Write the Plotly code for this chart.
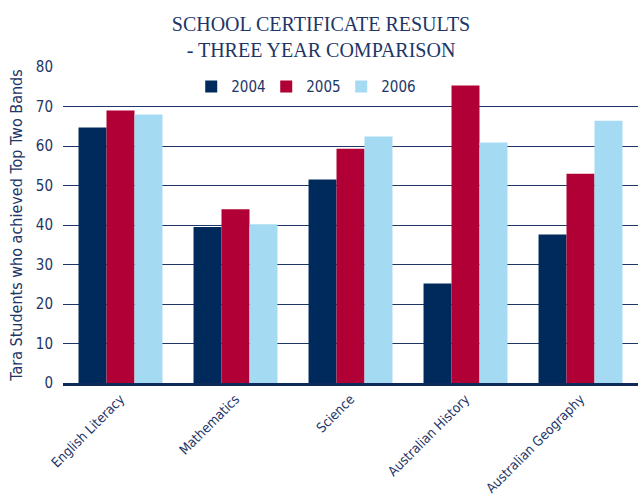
import plotly.graph_objects as go

categories = ["English Literacy", "Mathematics", "Science", "Australian History", "Australian Geography"]
years = ["2004", "2005", "2006"]
v2004 = [64.7, 39.5, 51.5, 25.2, 37.6]
v2005 = [69.0, 44.0, 59.3, 75.3, 53.0]
v2006 = [68.0, 40.2, 62.4, 60.9, 66.4]
colors = ["#002A5C", "#B00035", "#A5DAF3"]
yticks = [0, 10, 20, 30, 40, 50, 60, 70, 80]

NAVY = "#1D3667"
FONT = "DejaVu Sans Condensed, Liberation Sans Narrow, sans-serif"

fig = go.Figure()
for name, vals, c in zip(years, [v2004, v2005, v2006], colors):
    fig.add_trace(go.Bar(x=categories, y=vals, name=name, marker=dict(color=c, line=dict(width=0))))

fig.update_layout(
    width=642, height=502,
    margin=dict(l=63, r=4, t=67, b=119, autoexpand=False),
    paper_bgcolor="white", plot_bgcolor="white",
    barmode="group", bargap=0.27, bargroupgap=0,
    title=dict(text="SCHOOL CERTIFICATE RESULTS<br>- THREE YEAR COMPARISON",
               x=0.5, xanchor="center", xref="container", yref="container", y=0.938, yanchor="middle",
               font=dict(family="Liberation Serif, DejaVu Serif, serif", size=20, color=NAVY)),
    legend=dict(orientation="h", x=0.223, xanchor="left", y=0.99, yanchor="top",
                font=dict(family=FONT, size=15, color=NAVY), bgcolor="rgba(0,0,0,0)",
                entrywidth=30, entrywidthmode="pixels", traceorder="normal"),
    font=dict(family=FONT, color=NAVY),
    showlegend=True,
)
fig.update_xaxes(showline=True, linecolor="#0E2A5A", linewidth=3, tickangle=-45, automargin=False,
                 tickfont=dict(family=FONT, size=13.5, color=NAVY), showgrid=False, ticks="")
fig.update_yaxes(range=[0, 80], tickvals=yticks, showgrid=True, gridcolor="#1D3667", gridwidth=1,
                 zeroline=False, tickfont=dict(family=FONT, size=15, color=NAVY), automargin=False,
                 ticklabelstandoff=9,
                 title=dict(text="Tara Students who achieved Top Two Bands", standoff=9,
                            font=dict(family=FONT, size=16, color=NAVY)))
fig.write_html("out.html", post_script="document.body.style.margin='0';",
               config={"displayModeBar": False})
